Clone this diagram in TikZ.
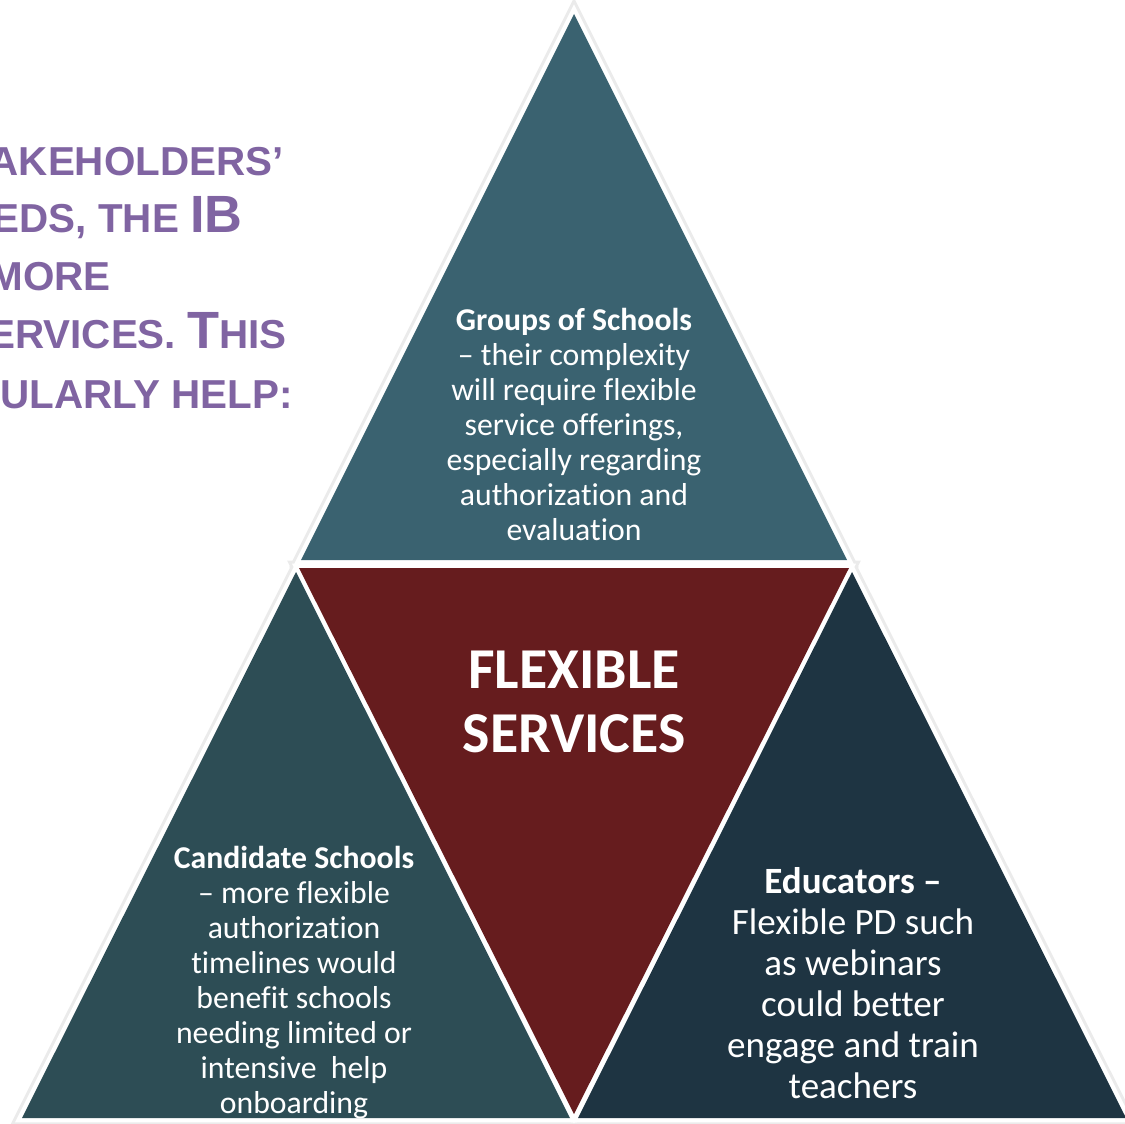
\documentclass[tikz,border=0pt]{standalone}
\usepackage{fontspec}
\setmainfont{Carlito}[Ligatures={NoCommon}]
\newfontfamily\arialfont{Liberation Sans}
\definecolor{topc}{RGB}{58,98,112}
\definecolor{midc}{RGB}{102,28,30}
\definecolor{leftc}{RGB}{45,77,85}
\definecolor{rightc}{RGB}{30,52,66}
\definecolor{purp}{RGB}{128,100,162}
\newcommand{\smc}[1]{{\fontsize{30.3}{32}\selectfont #1}}
\newcommand{\bigc}[1]{{\fontsize{39.3}{42}\selectfont #1}}
\tikzset{
  shadowline/.style={draw=black!8, line width=11pt, line join=miter},
  whiteline/.style={draw=white, line width=6.5pt, line join=miter},
  bodytext/.style={text=white, align=center, font=\fontsize{23.8}{26.25}\selectfont, inner sep=0pt},
  righttext/.style={text=white, align=center, font=\fontsize{27.8}{30.75}\selectfont, inner sep=0pt},
  titletext/.style={text=white, align=center, font=\bfseries\fontsize{43.4}{48}\selectfont, inner sep=0pt},
  purptext/.style={text=purp, font=\arialfont\bfseries, inner sep=0pt, anchor=base east}
}
\begin{document}
\begin{tikzpicture}[x=0.75pt,y=-0.75pt]
\useasboundingbox (0,0) rectangle (1125,1124);
\clip (0,0) rectangle (1125,1124);
% corners
\coordinate (tA) at (574,14);  \coordinate (tB) at (301,560); \coordinate (tC) at (847,560);
\coordinate (mA) at (299,568); \coordinate (mB) at (849,568); \coordinate (mC) at (574,1114);
\coordinate (lA) at (296,572); \coordinate (lB) at (22,1118);  \coordinate (lC) at (570,1118);
\coordinate (rA) at (852,572); \coordinate (rB) at (578,1118); \coordinate (rC) at (1126,1118);
% shadows
\foreach \a/\b/\c in {tA/tB/tC, mA/mB/mC, lA/lB/lC, rA/rB/rC}
  \draw[shadowline] (\a) -- (\b) -- (\c) -- cycle;
\foreach \a/\b/\c in {tA/tB/tC, mA/mB/mC, lA/lB/lC, rA/rB/rC}
  \draw[whiteline] (\a) -- (\b) -- (\c) -- cycle;
% fills
\fill[topc] (tA) -- (tB) -- (tC) -- cycle;
\fill[midc] (mA) -- (mB) -- (mC) -- cycle;
\fill[leftc] (lA) -- (lB) -- (lC) -- cycle;
\fill[rightc] (rA) -- (rB) -- (rC) -- cycle;
% texts
\node[bodytext] (groups) at (574,424) {\textbf{Groups of Schools}\\– their complexity\\will require flexible\\service offerings,\\especially regarding\\authorization and\\evaluation};
\node[titletext] (flex) at (574,702) {FLEXIBLE\\SERVICES};
\node[bodytext] (cand) at (294,983) {\textbf{Candidate Schools}\\– more flexible\\authorization\\timelines would\\benefit schools\\needing limited or\\intensive\ \ help\\onboarding};
\node[righttext] (edu) at (853,983) {\textbf{Educators –}\\Flexible PD such\\as webinars\\could better\\engage and train\\teachers};
% purple heading (cut at the left edge)
\node[purptext] (p1) at (284,175) {\smc{AKEHOLDERS’}};
\node[purptext] (p2) at (243,232) {\smc{EDS, THE }\bigc{IB}};
\node[purptext] (p3) at (111,290) {\smc{MORE}};
\node[purptext] (p4) at (287,348) {\smc{ERVICES. }\bigc{T}\smc{HIS}};
\node[purptext] (p5) at (293,408) {\smc{ULARLY HELP:}};
\end{tikzpicture}
\end{document}
